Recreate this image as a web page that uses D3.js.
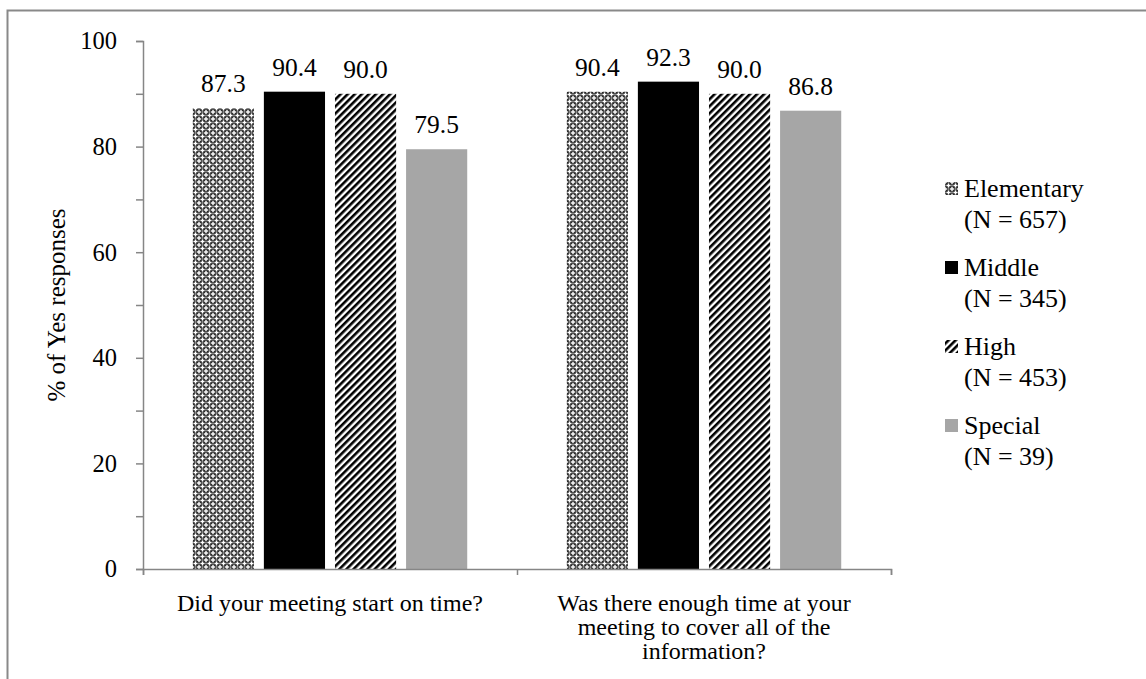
<!DOCTYPE html>
<html>
<head>
<meta charset="utf-8">
<script src="https://cdn.jsdelivr.net/npm/d3@7"></script>
<style>
  html, body { margin: 0; padding: 0; background: #fff; }
  svg { display: block; font-family: "Liberation Serif", "Times New Roman", serif; }
</style>
</head>
<body>
<svg id="chart" width="1146" height="679"></svg>
<script>
// Survey questions (x categories)
const questions = [
  ["Did your meeting start on time?"],
  ["Was there enough time at your", "meeting to cover all of the", "information?"]
];
// School levels (series) and their sample sizes
const levels = ["Elementary", "Middle", "High", "Special"];
const sampleSizes = ["(N = 657)", "(N = 345)", "(N = 453)", "(N = 39)"];
// % of Yes responses, one row per school level, one value per question
const elementaryValues = [87.3, 90.4];
const middleValues = [90.4, 92.3];
const highValues = [90.0, 90.0];
const specialValues = [79.5, 86.8];
const yTicks = [0, 20, 40, 60, 80, 100];

const seriesValues = [elementaryValues, middleValues, highValues, specialValues];

const svg = d3.select("#chart");
const defs = svg.append("defs");

// Lattice weave fill
const pLattice = defs.append("pattern").attr("id", "pat-lattice")
  .attr("patternUnits", "userSpaceOnUse").attr("width", 7).attr("height", 7);
pLattice.append("rect").attr("width", 7).attr("height", 7).attr("fill", "#2a2a2a");
[[0, 0], [7, 0], [0, 7], [7, 7], [3.5, 3.5]].forEach(([cx, cy]) => {
  pLattice.append("rect").attr("x", cx - 0.7).attr("y", cy - 2.1).attr("width", 1.4).attr("height", 4.2).attr("fill", "#fff");
  pLattice.append("rect").attr("x", cx - 2.1).attr("y", cy - 0.7).attr("width", 4.2).attr("height", 1.4).attr("fill", "#fff");
});
[[3.5, 0], [0, 3.5], [7, 3.5], [3.5, 7]].forEach(([cx, cy]) => {
  pLattice.append("circle").attr("cx", cx).attr("cy", cy).attr("r", 1.0).attr("fill", "#8a8a8a");
});

// Diagonal stripe fill
const pStripe = defs.append("pattern").attr("id", "pat-stripe")
  .attr("patternUnits", "userSpaceOnUse").attr("width", 5).attr("height", 5)
  .attr("patternTransform", "rotate(45)");
pStripe.append("rect").attr("width", 5).attr("height", 5).attr("fill", "#fff");
pStripe.append("rect").attr("x", 0).attr("width", 2.6).attr("height", 5).attr("fill", "#000");

const fills = ["url(#pat-lattice)", "#000000", "url(#pat-stripe)", "#a6a6a6"];

// Outer frame (extends past the canvas on the right and bottom)
svg.append("rect").attr("x", 7.5).attr("y", 10.5).attr("width", 1200).attr("height", 700)
  .attr("fill", "none").attr("stroke", "#898989").attr("stroke-width", 2);

const plot = { left: 143, right: 891, top: 41, bottom: 569 };

const x0 = d3.scaleBand().domain(d3.range(questions.length))
  .range([plot.left, plot.right]).paddingInner(0).paddingOuter(0);
const x1 = d3.scaleBand().domain(d3.range(levels.length))
  .range([0, x0.bandwidth()]).paddingInner(0.14).paddingOuter(0.7);
const y = d3.scaleLinear().domain([0, 100]).range([plot.bottom, plot.top]);

const axisColor = "#868686";

// Bars
const groups = svg.append("g").selectAll("g").data(questions).join("g")
  .attr("transform", (d, i) => `translate(${x0(i)},0)`);

groups.each(function (q, qi) {
  const g = d3.select(this);
  levels.forEach((lv, li) => {
    const v = seriesValues[li][qi];
    g.append("rect")
      .attr("x", x1(li)).attr("width", x1.bandwidth())
      .attr("y", y(v)).attr("height", y(0) - y(v))
      .attr("fill", fills[li]);
    g.append("text")
      .attr("x", x1(li) + x1.bandwidth() / 2).attr("y", y(v) - 16)
      .attr("text-anchor", "middle").attr("font-size", 25.5).attr("fill", "#000")
      .text(v.toFixed(1));
  });
});

// Y axis with minor ticks every 10
const yAxisG = svg.append("g").attr("transform", `translate(${plot.left},0)`);
yAxisG.call(d3.axisLeft(y).tickValues(d3.range(0, 101, 10)).tickSize(7).tickFormat(""))
  .call(g => g.select(".domain").attr("stroke", axisColor).attr("stroke-width", 1.5))
  .call(g => g.selectAll(".tick line").attr("stroke", axisColor).attr("stroke-width", 1.5));
yAxisG.append("g").call(d3.axisLeft(y).tickValues(yTicks).tickSize(0).tickPadding(26).tickFormat(d3.format("d")))
  .call(g => g.select(".domain").remove())
  .call(g => g.selectAll(".tick text").attr("font-size", 24.5).attr("fill", "#000")
    .attr("font-family", "Liberation Serif, Times New Roman, serif"));

// X axis
const xAxisG = svg.append("g").attr("transform", `translate(0,${plot.bottom})`);
xAxisG.call(d3.axisBottom(d3.scaleLinear().domain([0, 2]).range([plot.left, plot.right]))
  .tickValues([0, 1, 2]).tickSize(6).tickFormat(""))
  .call(g => g.select(".domain").attr("stroke", axisColor).attr("stroke-width", 1.5))
  .call(g => g.selectAll(".tick line").attr("stroke", axisColor).attr("stroke-width", 1.5));

// Category labels
questions.forEach((lines, i) => {
  const t = svg.append("text").attr("text-anchor", "middle").attr("font-size", 24).attr("fill", "#000");
  lines.forEach((ln, k) => {
    t.append("tspan").attr("x", x0(i) + x0.bandwidth() / 2).attr("y", 611 + k * 24).text(ln);
  });
});

// Y axis title
svg.append("text")
  .attr("transform", `translate(65,${(plot.top + plot.bottom) / 2}) rotate(-90)`)
  .attr("text-anchor", "middle").attr("font-size", 25).attr("fill", "#000")
  .text("% of Yes responses");

// Legend
const legend = svg.append("g");
levels.forEach((lv, i) => {
  const base = 197 + i * 79;
  legend.append("rect").attr("x", 945).attr("y", base - 15).attr("width", 13).attr("height", 13)
    .attr("fill", fills[i]);
  legend.append("text").attr("x", 964).attr("y", base).attr("font-size", 26).attr("fill", "#000").text(lv);
  legend.append("text").attr("x", 964).attr("y", base + 31).attr("font-size", 26).attr("fill", "#000").text(sampleSizes[i]);
});
</script>
</body>
</html>
